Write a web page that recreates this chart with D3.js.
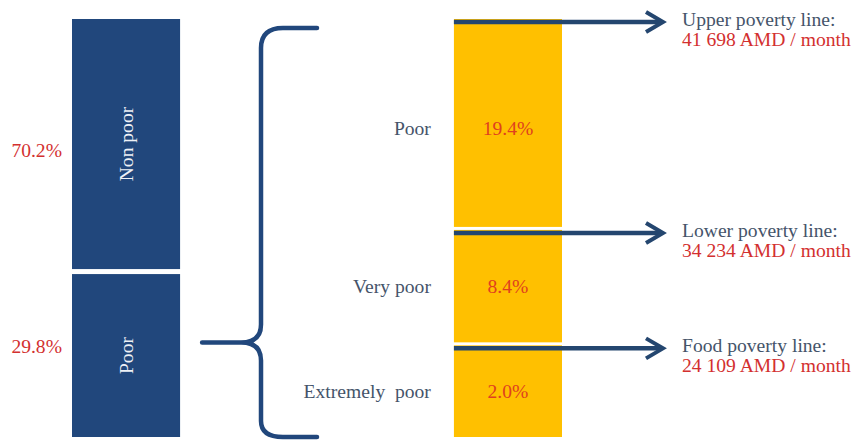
<!DOCTYPE html>
<meta charset="utf-8">
<style>
body { margin: 0; background: #fff; }
svg text { font-family: "Liberation Serif", "Times New Roman", serif; font-size: 19.6px; }
</style>
<svg width="858" height="441"></svg>
<script src="https://cdn.jsdelivr.net/npm/d3@7"></script>
<script>

// data
var groups = ["Non poor", "Poor"]
var groupShares = [70.2, 29.8]
var levels = ["Poor", "Very poor", "Extremely  poor"]
var levelShares = [19.4, 8.4, 2.0]
var lineNames = ["Upper poverty line:", "Lower poverty line:", "Food poverty line:"]
var lineValues = [41698, 34234, 24109]

var blue = "#21477c",
	yellow = "#ffc000",
	slate = "#45546a",
	red = "#d3302f"

var svg = d3.select("svg")

var barTop = 19,
	barBottom = 437

// x positions of the two bars
var x = d3.scaleBand()
	.domain(["all", "poor"])
	.range([72, 562])
	.paddingInner(0.717)

// the source bars are schematic, not drawn to scale:
// the heights come from a sqrt / squared weighting of the shares
function stack(values, weight, gap) {
	var w = values.map(weight)
	var total = d3.sum(w)
	var y = d3.scaleLinear()
		.domain([0, total])
		.range([barTop, barBottom - gap * (values.length - 1)])
	var acc = 0
	return values.map(function (v, i) {
		var s = { value: v, y0: y(acc) + gap * i }
		acc += w[i]
		s.y1 = y(acc) + gap * i
		s.mid = (s.y0 + s.y1) / 2
		return s
	})
}

var leftSegs = stack(groupShares, d3.scaleSqrt().domain([0, 100]).range([0, 1]), 5)
var rightSegs = stack(levelShares,
	d3.scalePow().exponent(2).domain([0, d3.max(levelShares)]).range([1, 2.3]), 3)

var fmtPct = function (v) { return d3.format(".1f")(v) + "%" }
var fmtAmd = function (v) { return d3.format(",")(v).replace(/,/g, " ") + " AMD / month" }

/*********** left bar ***********/
var lx = x("all"), bw = x.bandwidth()

svg.append("g").selectAll("rect")
	.data(leftSegs)
	.enter().append("rect")
	.attr("x", lx)
	.attr("y", function (d) { return d.y0 })
	.attr("width", bw)
	.attr("height", function (d) { return d.y1 - d.y0 })
	.attr("fill", blue)

svg.append("g").selectAll("text")
	.data(leftSegs)
	.enter().append("text")
	.attr("transform", function (d) { return "translate(" + (lx + bw / 2) + "," + d.mid + ") rotate(-90)" })
	.attr("text-anchor", "middle")
	.attr("dy", "0.33em")
	.attr("fill", "#eef1f6")
	.text(function (d, i) { return groups[i] })

/*********** brace ***********/
var poorSeg = leftSegs[1]
var bx = 261,
	tipX = lx + bw + 22,
	tipY = poorSeg.y0 + (poorSeg.y1 - poorSeg.y0) * 0.42,
	endX = 317,
	topY = barTop + 9,
	botY = barBottom

// share labels left of the bar (the lower one sits level with the brace tip)
svg.append("g").selectAll("text")
	.data(leftSegs)
	.enter().append("text")
	.attr("x", lx - 10)
	.attr("y", function (d, i) { return i === 0 ? d.mid + 6 : tipY + 4 })
	.attr("dy", "0.33em")
	.attr("text-anchor", "end")
	.attr("fill", red)
	.text(function (d) { return fmtPct(d.value) })

var brace = d3.path()
brace.moveTo(endX, topY)
brace.lineTo(bx + 22, topY)
brace.quadraticCurveTo(bx, topY, bx, topY + 20)
brace.lineTo(bx, tipY - 18)
brace.quadraticCurveTo(bx, tipY, bx - 20, tipY)
brace.lineTo(tipX, tipY)
brace.moveTo(bx - 20, tipY)
brace.quadraticCurveTo(bx, tipY, bx, tipY + 18)
brace.lineTo(bx, botY - 16)
brace.quadraticCurveTo(bx, botY, bx + 22, botY)
brace.lineTo(endX, botY)

svg.append("path")
	.attr("d", brace.toString())
	.attr("fill", "none")
	.attr("stroke", blue)
	.attr("stroke-width", 4.5)
	.attr("stroke-linecap", "round")

/*********** right bar ***********/
var rx = x("poor")

svg.append("g").selectAll("rect")
	.data(rightSegs)
	.enter().append("rect")
	.attr("x", rx)
	.attr("y", function (d) { return d.y0 })
	.attr("width", bw)
	.attr("height", function (d) { return d.y1 - d.y0 })
	.attr("fill", yellow)

// label y: the top segment's text sits a bit below its middle in the source
function labelY(d, i) { return i === 0 ? d.mid + 6 : d.mid }

svg.append("g").selectAll("text")
	.data(rightSegs)
	.enter().append("text")
	.attr("x", rx - 23)
	.attr("y", labelY)
	.attr("dy", "0.33em")
	.attr("text-anchor", "end")
	.attr("fill", slate)
	.style("white-space", "pre")
	.text(function (d, i) { return levels[i] })

svg.append("g").selectAll("text")
	.data(rightSegs)
	.enter().append("text")
	.attr("x", rx + bw / 2)
	.attr("y", labelY)
	.attr("dy", "0.33em")
	.attr("text-anchor", "middle")
	.attr("fill", "#e0401f")
	.text(function (d) { return fmtPct(d.value) })

/*********** poverty line arrows ***********/
var tip = rx + bw + 101
var arrows = svg.append("g").selectAll("g")
	.data(rightSegs)
	.enter().append("g")
	.attr("transform", function (d) { return "translate(0," + (d.y0 + 3) + ")" })

arrows.append("line")
	.attr("x1", rx)
	.attr("x2", tip - 2)
	.attr("stroke", "#24466f")
	.attr("stroke-width", 4.5)

arrows.append("path")
	.attr("d", "M" + (tip - 17) + ",-10L" + tip + ",0L" + (tip - 17) + ",10")
	.attr("fill", "none")
	.attr("stroke", "#24466f")
	.attr("stroke-width", 4)

arrows.append("text")
	.attr("x", tip + 19)
	.attr("y", 4)
	.attr("fill", slate)
	.text(function (d, i) { return lineNames[i] })

arrows.append("text")
	.attr("x", tip + 19)
	.attr("y", 24)
	.attr("fill", red)
	.text(function (d, i) { return fmtAmd(lineValues[i]) })

</script>
